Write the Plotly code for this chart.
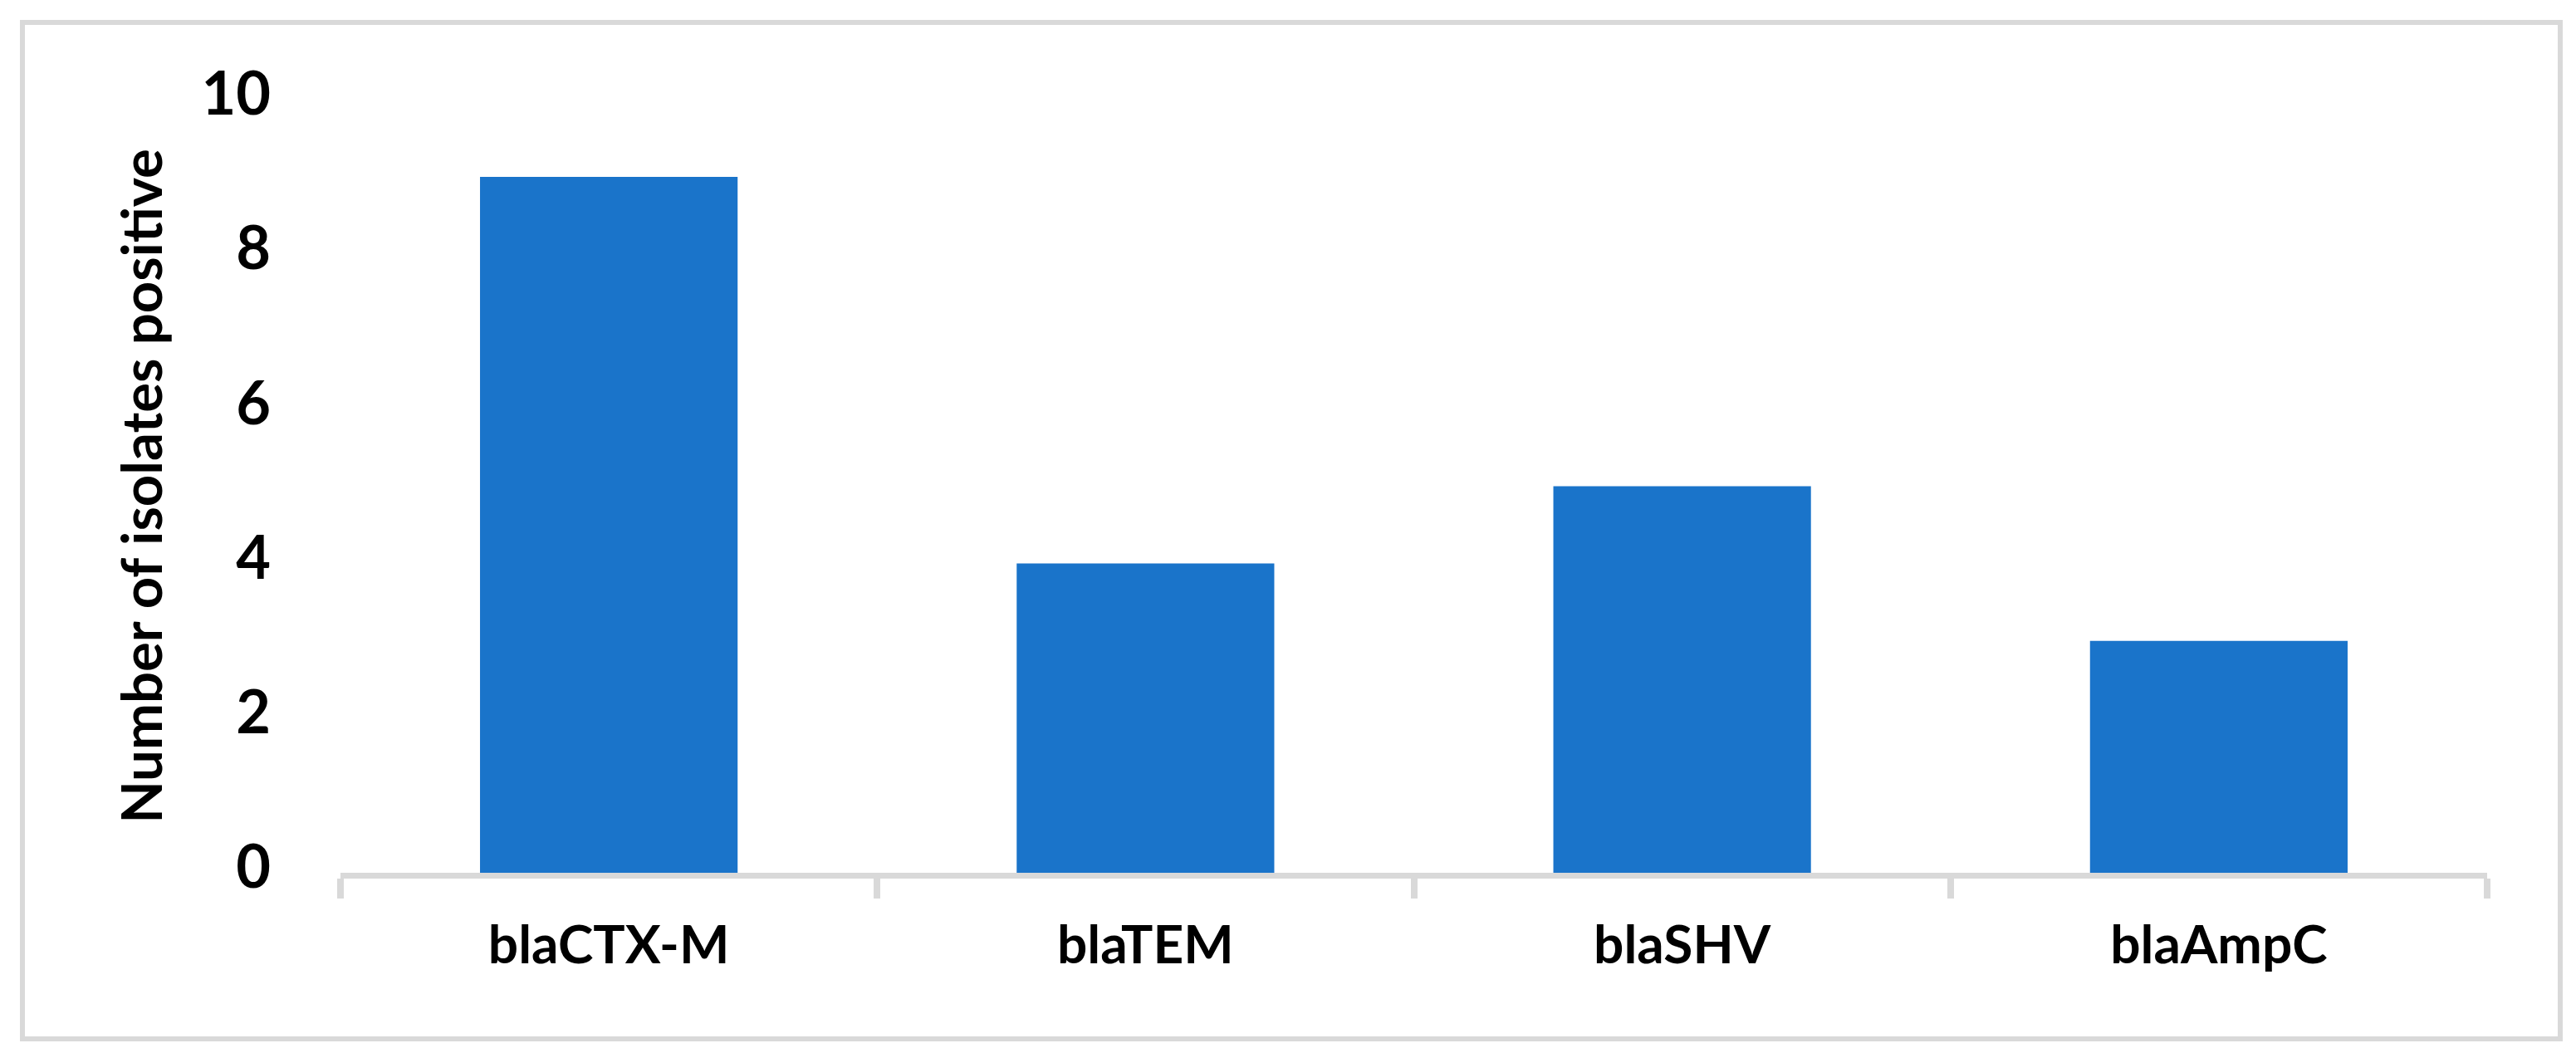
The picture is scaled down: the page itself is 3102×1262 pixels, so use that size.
import plotly.graph_objects as go

categories = ["blaCTX-M", "blaTEM", "blaSHV", "blaAmpC"]
values = [9, 4, 5, 3]
y_ticks = [0, 2, 4, 6, 8, 10]
y_title = "Number of isolates positive"

W, H = 3102, 1262
L, R, T, B = 402, 115, 112, 219
pw, ph = W - L - R, H - T - B

font = "Lato"

fig = go.Figure(go.Bar(x=categories, y=values, marker_color="#1A74CA",
                       marker_line_width=0, width=0.48))

fig.update_layout(
    width=W, height=H,
    margin=dict(l=L, r=R, t=T, b=B, autoexpand=False),
    paper_bgcolor="white", plot_bgcolor="white",
    showlegend=False,
    font=dict(family=font, color="black"),
)
fig.update_xaxes(
    showline=True, linecolor="#d9d9d9", linewidth=7,
    ticks="outside", tickson="boundaries", ticklen=24, tickwidth=8, tickcolor="#d9d9d9",
    tickfont=dict(family=font, size=64, color="black", weight="bold"),
    ticklabelstandoff=25,
    showgrid=False, zeroline=False,
)
fig.update_yaxes(
    range=[0, 10], tickvals=y_ticks, showline=False, showgrid=False, zeroline=False,
    ticks="", tickfont=dict(family=font, size=72, color="black", weight="bold"),
    ticklabelstandoff=83, ticklabelshift=-7,
    title=dict(text=y_title, font=dict(family=font, size=67, color="black", weight="bold"), standoff=25),
    automargin=False,
)
# outer chart border
fig.add_shape(type="rect", xref="paper", yref="paper",
              x0=(19 - L) / pw, x1=(3075 - L) / pw,
              y0=(H - B - 1243) / ph, y1=(H - B - 19) / ph,
              line=dict(color="#d9d9d9", width=6), fillcolor="rgba(0,0,0,0)", layer="below")

fig.write_html("out.html")
